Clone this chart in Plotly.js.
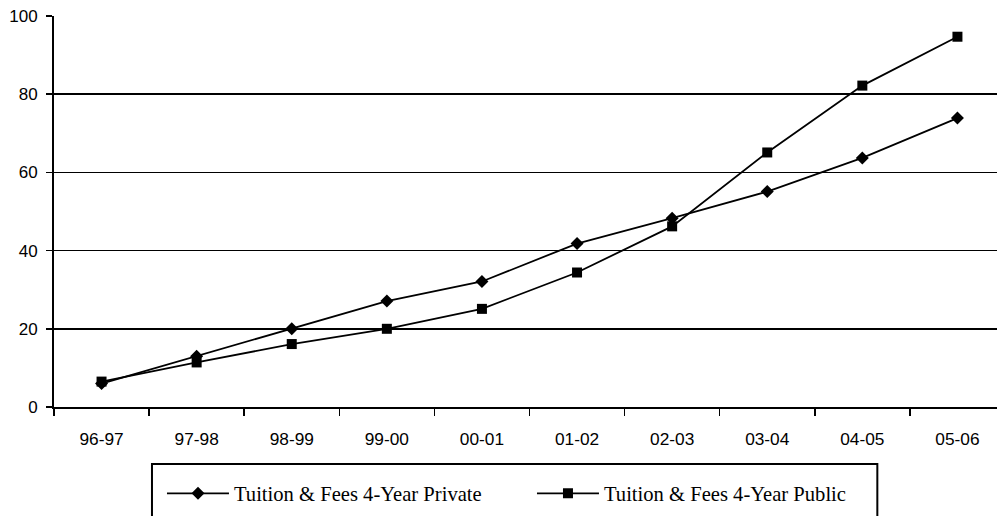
<!DOCTYPE html>
<html>
<head>
<meta charset="utf-8">
<script src="https://cdn.plot.ly/plotly-3.0.1.min.js"></script>
<style>html,body{margin:0;padding:0;background:#fff;}#chart{width:997px;height:516px;}</style>
</head>
<body>
<div id="chart"></div>
<script>
const years = ['96-97','97-98','98-99','99-00','00-01','01-02','02-03','03-04','04-05','05-06'];
const privateFees = [6.0, 13.0, 20.0, 27.1, 32.1, 41.8, 48.3, 55.1, 63.7, 73.9];
const publicFees = [6.5, 11.4, 16.1, 20.0, 25.1, 34.4, 46.2, 65.1, 82.2, 94.7];
const seriesNames = ['Tuition & Fees 4-Year Private', 'Tuition & Fees 4-Year Public'];

const traces = [
  {x: years, y: privateFees, name: seriesNames[0], type: 'scatter', mode: 'lines+markers',
   line: {color: '#000', width: 1.8}, marker: {symbol: 'diamond', size: 10, color: '#000'}},
  {x: years, y: publicFees, name: seriesNames[1], type: 'scatter', mode: 'lines+markers',
   line: {color: '#000', width: 1.8}, marker: {symbol: 'square', size: 10, color: '#000'}}
];

const layout = {
  width: 997, height: 516,
  margin: {l: 54, r: 0, t: 16, b: 109, autoexpand: false},
  paper_bgcolor: '#fff', plot_bgcolor: '#fff',
  font: {family: 'Liberation Sans, Arial, sans-serif', size: 17.3, color: '#000'},
  showlegend: true,
  xaxis: {
    type: 'category', range: [-0.5, 9.416], tickson: 'boundaries',
    ticks: 'outside', ticklen: 7, tickwidth: 1.5, tickcolor: '#000',
    showline: true, linecolor: '#000', linewidth: 2, showgrid: false,
    ticklabelstandoff: 15, zeroline: false, fixedrange: true
  },
  yaxis: {
    range: [0, 100], dtick: 20, tick0: 0,
    ticks: 'outside', ticklen: 6, tickwidth: 1.5, tickcolor: '#000',
    showline: true, linecolor: '#000', linewidth: 2,
    showgrid: true, gridcolor: '#000', gridwidth: 1.5, zeroline: false,
    ticklabelstandoff: 5, tickfont: {size: 17}, fixedrange: true
  },
  legend: {
    orientation: 'h', x: 0.1145, xanchor: 'left', y: -0.17, yanchor: 'top',
    xref: 'paper', yref: 'paper',
    font: {family: 'Liberation Serif, Times New Roman, serif', size: 20.6, color: '#000'},
    bgcolor: 'rgba(0,0,0,0)', borderwidth: 0, itemwidth: 62, entrywidth: 293
  },
  shapes: [{type: 'rect', xref: 'paper', yref: 'paper', x0: 0.1039, x1: 0.8731,
            y0: -0.1458, y1: -0.35, line: {color: '#000', width: 2}, fillcolor: 'rgba(0,0,0,0)'}]
};

Plotly.newPlot('chart', traces, layout, {displayModeBar: false, staticPlot: true});
</script>
</body>
</html>
